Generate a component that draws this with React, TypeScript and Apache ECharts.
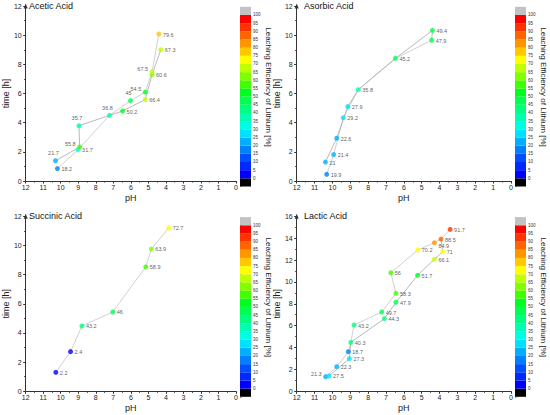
import React, { useEffect, useRef } from "react";
import * as echarts from "echarts";

const FONT = "Liberation Sans, Arial, sans-serif";

// Leaching efficiency levels (colour map)
const LEVEL_BOUNDS = [0, 5, 10, 15, 20, 25, 30, 35, 40, 45, 50, 55, 60, 65, 70, 75, 80, 85, 90, 95, 100];
const LEVEL_COLORS = [
  "#0000ff", "#0028ff", "#0050ff", "#0080ff", "#00b0ff",
  "#00e0ff", "#00ffe0", "#00ffb0", "#00ff80", "#00ff50",
  "#00ff20", "#40ff00", "#80ff00", "#c0ff00", "#ffff00",
  "#ffc800", "#ff9600", "#ff6400", "#ff3200", "#ff0000",
];
const OVER_COLOR = "#c3c3c3";
const UNDER_COLOR = "#000000";

// [pH, time h, leaching efficiency %]
const ACETIC_POINTS = [
  [10.19, 0.85, 18.2], [10.3, 1.39, 21.7], [9.01, 2.15, 31.7], [8.92, 2.33, 55.8],
  [8.96, 3.79, 35.7], [7.22, 4.5, 36.8], [6.47, 4.8, 50.2], [6.02, 5.51, 45],
  [5.18, 5.58, 66.4], [5.18, 6.1, 54.5], [4.79, 7.29, 60.6], [4.79, 7.5, 67.5],
  [4.29, 9.0, 67.3], [4.4, 10.08, 79.6],
];
const ACETIC_PATHS = [
  [0, 2, 5, 7, 9, 11, 13],
  [1, 3, 4, 5, 6, 8, 10, 12],
];
const ACETIC_LABEL_POS = ["right", "top", "right", "left", "top", "top", "right", "top", "right", "left", "right", "left", "right", "right"];

const ASCORBIC_POINTS = [
  [10.32, 0.46, 19.9], [10.39, 1.3, 21], [9.93, 1.81, 21.4], [9.76, 2.93, 22.6],
  [9.39, 4.34, 29.2], [9.14, 5.1, 27.9], [8.55, 6.26, 35.8], [6.47, 8.41, 45.2],
  [4.44, 9.65, 47.9], [4.4, 10.33, 49.4],
];
const ASCORBIC_PATHS = [
  [0, 2, 4, 6, 7, 8],
  [1, 3, 5, 6, 7, 9, 8],
];

const SUCCINIC_POINTS = [
  [10.28, 1.3, 2.2], [9.44, 2.72, 2.4], [8.79, 4.48, 43.2], [7.03, 5.44, 46],
  [5.15, 8.53, 58.9], [4.83, 9.76, 63.9], [3.84, 11.2, 72.7],
];
const SUCCINIC_PATHS = [[0, 1, 2, 3, 4, 5, 6]];

const LACTIC_POINTS = [
  [10.38, 1.33, 21.3], [10.19, 1.4, 27.5], [9.76, 2.25, 22.3], [9.05, 2.98, 27.3],
  [9.11, 3.62, 18.7], [8.97, 4.48, 40.3], [8.79, 6.06, 43.2], [7.09, 6.64, 44.3],
  [7.24, 7.25, 49.7], [6.44, 8.14, 47.9], [6.44, 8.96, 58.3], [5.23, 10.61, 51.7],
  [6.73, 10.84, 56], [4.29, 12.07, 66.1], [3.82, 12.76, 71], [5.22, 12.92, 70.2],
  [4.29, 13.58, 84.9], [3.92, 13.92, 88.5], [3.41, 14.8, 91.7],
];
const LACTIC_PATHS = [
  [0, 2, 4, 5, 6, 8, 10, 12, 15, 16, 17, 18],
  [1, 3, 5, 7, 9, 11, 13, 14, 17],
];
const LACTIC_LABEL_POS = ["left", "right", "right", "right", "right", "right", "right", "right", "right", "right", "right", "right", "right", "right", "right", "right", "lowright"];

const PANELS = [
  { title: "Acetic Acid", points: ACETIC_POINTS, paths: ACETIC_PATHS, labelPos: ACETIC_LABEL_POS, yMax: 12 },
  { title: "Asorbic Acid", points: ASCORBIC_POINTS, paths: ASCORBIC_PATHS, labelPos: [], yMax: 12 },
  { title: "Succinic Acid", points: SUCCINIC_POINTS, paths: SUCCINIC_PATHS, labelPos: [], yMax: 12 },
  { title: "Lactic Acid", points: LACTIC_POINTS, paths: LACTIC_PATHS, labelPos: LACTIC_LABEL_POS, yMax: 16 },
];

const CB_TITLE = "Leaching Efficiency of Lithium [%]";

function colorFor(v: number): string {
  if (v < 0) return UNDER_COLOR;
  if (v > 100) return OVER_COLOR;
  for (let i = 0; i < LEVEL_COLORS.length; i++) {
    if (v < LEVEL_BOUNDS[i + 1] || i === LEVEL_COLORS.length - 1) return LEVEL_COLORS[i];
  }
  return OVER_COLOR;
}

function labelFor(pos: string) {
  if (pos === "left") return { position: "left", distance: 1.5, offset: [0, -3] };
  if (pos === "top") return { position: "top", distance: 2, offset: [-2, 0] };
  if (pos === "lowright") return { position: "right", distance: 1.5, offset: [0, 3] };
  return { position: "right", distance: 1.5, offset: [0, 0.5] };
}

function buildOption() {
  const grid: any[] = [];
  const xAxis: any[] = [];
  const yAxis: any[] = [];
  const series: any[] = [];
  const title: any[] = [];
  const graphic: any[] = [];

  const cbData: any[] = [{ value: [-5, 0], itemStyle: { color: UNDER_COLOR } }];
  LEVEL_COLORS.forEach((c, i) => cbData.push({ value: [LEVEL_BOUNDS[i], LEVEL_BOUNDS[i + 1]], itemStyle: { color: c } }));
  cbData.push({ value: [100, 105], itemStyle: { color: OVER_COLOR } });

  PANELS.forEach((p, k) => {
    const ox = (k % 2) * 275;
    const oy = Math.floor(k / 2) * 210.3;
    const gi = k * 2;
    grid.push({ left: 21.7 + ox, top: 6 + oy, width: 214.3, height: 175, containLabel: false });
    grid.push({ left: 240 + ox, top: 6.8 + oy, width: 11, height: 179.7, containLabel: false });

    xAxis.push({
      gridIndex: gi, type: "value", inverse: true, min: 0, max: 12, interval: 1,
      name: "pH", nameLocation: "middle", nameGap: 12,
      nameTextStyle: { fontSize: 9, color: "#222", fontFamily: FONT },
      axisLine: { show: true, onZero: false, lineStyle: { color: "#333", width: 1 } },
      axisTick: { show: true, length: 2.5, lineStyle: { color: "#333" } },
      minorTick: { show: true, splitNumber: 2, length: 1.5, lineStyle: { color: "#333" } },
      axisLabel: { fontSize: 7, color: "#222", margin: 3, fontFamily: FONT },
      splitLine: { show: false },
    });
    yAxis.push({
      gridIndex: gi, type: "value", min: 0, max: p.yMax, interval: 2,
      name: "time [h]", nameLocation: "middle", nameGap: 12,
      nameTextStyle: { fontSize: 9, color: "#222", fontFamily: FONT },
      axisLine: { show: true, onZero: false, symbol: ["none", "triangle"], symbolSize: [4, 5], symbolOffset: [0, 0], lineStyle: { color: "#333", width: 1 } },
      axisTick: { show: true, length: 2.5, lineStyle: { color: "#333" } },
      minorTick: { show: true, splitNumber: 2, length: 1.5, lineStyle: { color: "#333" } },
      axisLabel: { fontSize: 7, color: "#222", margin: 4, fontFamily: FONT },
      splitLine: { show: false },
    });
    xAxis.push({ gridIndex: gi + 1, type: "value", min: 0, max: 1, show: false });
    yAxis.push({
      gridIndex: gi + 1, type: "value", min: -5, max: 105, interval: 5, position: "right",
      axisLine: { show: false },
      axisTick: { show: true, length: 1.5, lineStyle: { color: "#444", width: 0.6 } },
      axisLabel: {
        fontSize: 4.5, color: "#333", margin: 2, fontFamily: FONT,
        formatter: (v: number) => (v < 0 || v > 100 ? "" : String(v)),
      },
      splitLine: { show: false },
    });

    title.push({
      text: p.title, left: 29 + ox, top: 1.5 + oy, padding: 0,
      textStyle: { fontSize: 9, fontWeight: "normal", color: "#111", fontFamily: FONT },
    });
    graphic.push({
      type: "text", x: 268 + ox, y: 87 + oy, rotation: -Math.PI / 2,
      style: { text: CB_TITLE, fontSize: 8, fill: "#222", fontFamily: FONT, align: "center", verticalAlign: "middle" },
    });

    p.paths.forEach((path, j) => {
      series.push({
        type: "line", xAxisIndex: gi, yAxisIndex: gi, symbol: "none", silent: true, z: 1,
        lineStyle: { color: j === 0 ? "#c4c4c4" : "#a8a8a8", width: 0.8 },
        data: path.map((idx) => [p.points[idx][0], p.points[idx][1]]),
      });
    });

    series.push({
      type: "scatter", xAxisIndex: gi, yAxisIndex: gi, symbolSize: 5, z: 3,
      itemStyle: { color: (prm: any) => colorFor(prm.value[2]) },
      data: p.points.map((pt, i) => ({ value: pt, label: labelFor(p.labelPos[i] || "right") })),
      label: {
        show: true, fontSize: 5.5, color: "#333", fontFamily: FONT,
        formatter: (prm: any) => String(prm.value[2]),
      },
    });

    series.push({
      type: "custom", xAxisIndex: gi + 1, yAxisIndex: gi + 1, silent: true,
      renderItem: (params: any, api: any) => {
        const lo = api.value(0);
        const hi = api.value(1);
        const a = api.coord([0, hi]);
        const b = api.coord([1, lo]);
        return {
          type: "rect",
          shape: { x: a[0], y: a[1], width: b[0] - a[0], height: b[1] - a[1] },
          style: { fill: api.visual("color") },
        };
      },
      data: cbData,
    });
  });

  return { animation: false, backgroundColor: "#ffffff", textStyle: { fontFamily: FONT }, title, grid, xAxis, yAxis, series, graphic };
}

export default function App() {
  const ref = useRef<HTMLDivElement>(null);
  useEffect(() => {
    if (!ref.current) return;
    const chart = echarts.init(ref.current, undefined, { renderer: "svg" });
    chart.setOption(buildOption() as any);
    return () => chart.dispose();
  }, []);
  return <div ref={ref} style={{ position: "fixed", left: 0, top: 0, width: 550, height: 415 }} />;
}
